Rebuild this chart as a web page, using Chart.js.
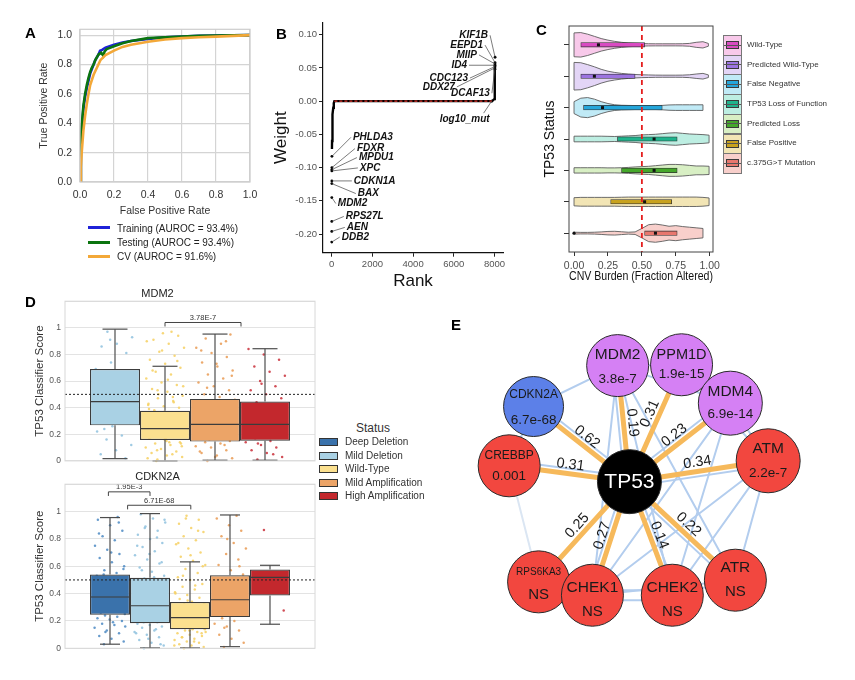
<!DOCTYPE html>
<html>
<head>
<meta charset="utf-8">
<script src="https://cdn.jsdelivr.net/npm/chart.js@4.4.1/dist/chart.umd.min.js"></script>
<style>
html,body{margin:0;padding:0;background:#fff;}
body{width:855px;height:680px;position:relative;overflow:hidden;font-family:"Liberation Sans",Arial,Helvetica,sans-serif;color:#222;}
canvas{position:absolute;}
.pl{position:absolute;font-weight:bold;font-size:15px;line-height:15px;color:#000;}
.legA{position:absolute;left:88px;height:12px;font-size:10px;line-height:12px;color:#222;white-space:nowrap;}
.legA i{display:inline-block;width:22px;height:3px;vertical-align:middle;margin-right:7px;position:relative;top:-1px;}
.ckey{position:absolute;left:723px;width:19px;box-sizing:border-box;border:1px solid #777;}
.ckey b{position:absolute;left:2px;top:5px;width:13px;height:8px;box-sizing:border-box;border:1px solid #3a3a3a;}
.ckey s{position:absolute;left:0;top:8.5px;width:17px;height:1px;background:#555;}
.clab{position:absolute;left:747px;font-size:8px;line-height:10px;color:#333;white-space:nowrap;}
.dpatch{position:absolute;left:319px;width:19px;height:8px;box-sizing:border-box;border:1px solid #333;}
.dlab{position:absolute;left:345px;font-size:10px;line-height:12px;color:#333;white-space:nowrap;}
</style>
</head>
<body>
<canvas id="cA" width="250" height="210" style="left:20px;top:15px;width:250px;height:210px"></canvas>
<canvas id="cB" width="258" height="280" style="left:262px;top:15px;width:258px;height:280px"></canvas>
<canvas id="cC" width="335" height="275" style="left:520px;top:15px;width:335px;height:275px"></canvas>
<canvas id="cD1" width="320" height="185" style="left:0px;top:285px;width:320px;height:185px"></canvas>
<canvas id="cD2" width="320" height="190" style="left:0px;top:468px;width:320px;height:190px"></canvas>
<canvas id="cE" width="415" height="400" style="left:440px;top:280px;width:415px;height:400px"></canvas>

<div class="pl" style="left:25px;top:25px">A</div>
<div class="pl" style="left:276px;top:26px">B</div>
<div class="pl" style="left:536px;top:22px">C</div>
<div class="pl" style="left:25px;top:294px">D</div>
<div class="pl" style="left:451px;top:317px">E</div>

<div id="legA"></div>
<div id="legC"></div>
<div id="legD"></div>

<script>
// ================= DATA =================
// Panel A: ROC curves
const rocLabels = ['Training (AUROC = 93.4%)', 'Testing (AUROC = 93.4%)', 'CV (AUROC = 91.6%)'];
const rocTrainFpr = [0, 0.005, 0.01, 0.02, 0.03, 0.04, 0.05, 0.06, 0.07, 0.08, 0.09, 0.1, 0.11, 0.118, 0.13, 0.15, 0.2, 0.25, 0.3, 0.4, 0.5, 0.6, 0.7, 0.8, 0.9, 1.0];
const rocTrainTpr = [0, 0.22, 0.35, 0.5, 0.58, 0.64, 0.69, 0.74, 0.77, 0.8, 0.83, 0.85, 0.87, 0.894, 0.9, 0.915, 0.935, 0.95, 0.96, 0.975, 0.985, 0.99, 0.995, 0.997, 0.999, 1.0];
const rocTestFpr = [0, 0.005, 0.01, 0.02, 0.03, 0.04, 0.05, 0.06, 0.07, 0.08, 0.09, 0.1, 0.11, 0.125, 0.137, 0.145, 0.157, 0.2, 0.25, 0.3, 0.4, 0.5, 0.6, 0.7, 0.8, 0.9, 1.0];
const rocTestTpr = [0, 0.25, 0.38, 0.52, 0.6, 0.66, 0.71, 0.75, 0.78, 0.8, 0.83, 0.85, 0.87, 0.88, 0.86, 0.89, 0.905, 0.925, 0.945, 0.96, 0.98, 0.985, 0.99, 0.995, 0.997, 0.999, 1.0];
const rocCvFpr = [0, 0.005, 0.01, 0.02, 0.03, 0.04, 0.05, 0.06, 0.08, 0.1, 0.12, 0.15, 0.2, 0.25, 0.3, 0.4, 0.5, 0.6, 0.7, 0.8, 0.9, 1.0];
const rocCvTpr = [0, 0.1, 0.2, 0.35, 0.45, 0.53, 0.6, 0.66, 0.73, 0.78, 0.83, 0.865, 0.895, 0.92, 0.935, 0.955, 0.97, 0.98, 0.986, 0.99, 0.995, 1.0];
const aTicks = [0, 0.2, 0.4, 0.6, 0.8, 1.0];

// Panel B: ranked weights
const bRank = [10, 15, 20, 30, 40, 55, 75, 100, 130, 7880, 7990, 8005, 8012, 8016, 8019, 8022];
const bWeight = [-0.072, -0.06, -0.05, -0.04, -0.03, -0.02, -0.01, -0.003, 0, 0, 0.003, 0.01, 0.02, 0.03, 0.04, 0.047];
const bGenes = ['DDB2', 'AEN', 'RPS27L', 'MDM2', 'BAX', 'CDKN1A', 'XPC', 'MPDU1', 'FDXR', 'PHLDA3', 'log10_mut', 'DCAF13', 'DDX27', 'CDC123', 'ID4', 'MIIP', 'EEPD1', 'KIF1B'];
const bGeneRank = [0, 1, 2, 3, 4, 5, 6, 7, 8, 9, 7862, 8022, 8023, 8024, 8025, 8026, 8027, 8030];
const bGeneWeight = [-0.212, -0.196, -0.181, -0.145, -0.124, -0.12, -0.105, -0.103, -0.1, -0.083, 0.0, 0.048, 0.05, 0.052, 0.054, 0.056, 0.058, 0.066];
const bXTicks = [0, 2000, 4000, 6000, 8000];
const bYTicks = [-0.2, -0.15, -0.1, -0.05, 0, 0.05, 0.1];

// Panel C: CNV burden violins
const cStatus = ['Wild-Type', 'Predicted Wild-Type', 'False Negative', 'TP53 Loss of Function', 'Predicted Loss', 'False Positive', 'c.375G>T Mutation'];
const cQ1 = [0.05, 0.05, 0.07, 0.32, 0.35, 0.27, 0.52];
const cMedian = [0.18, 0.15, 0.21, 0.59, 0.59, 0.52, 0.6];
const cQ3 = [0.52, 0.45, 0.65, 0.76, 0.76, 0.72, 0.76];
const cMax = [0.99, 0.99, 0.95, 0.995, 0.995, 0.995, 0.95];
const cOutlierRow = [7];
const cOutlierValue = [0.0];
const cThreshold = 0.5;
const cGrid = [0, 0.05, 0.1, 0.15, 0.2, 0.25, 0.3, 0.35, 0.4, 0.45, 0.5, 0.55, 0.6, 0.65, 0.7, 0.75, 0.8, 0.85, 0.9, 0.95, 1.0];
const cDensWT = [0.38, 0.39, 0.34, 0.27, 0.2, 0.15, 0.11, 0.08, 0.06, 0.05, 0.04, 0.035, 0.033, 0.033, 0.033, 0.033, 0.035, 0.045, 0.08, 0.1, 0.03];
const cDensPWT = [0.44, 0.43, 0.37, 0.3, 0.22, 0.16, 0.12, 0.09, 0.07, 0.055, 0.045, 0.04, 0.035, 0.033, 0.033, 0.033, 0.035, 0.045, 0.07, 0.09, 0.03];
const cDensFN = [0.19, 0.3, 0.32, 0.27, 0.19, 0.13, 0.09, 0.075, 0.07, 0.065, 0.065, 0.065, 0.065, 0.07, 0.085, 0.09, 0.09, 0.09, 0.09, 0.09, 0.09];
const cDensLoF = [0.09, 0.09, 0.09, 0.09, 0.09, 0.085, 0.08, 0.09, 0.1, 0.11, 0.13, 0.14, 0.15, 0.17, 0.19, 0.2, 0.18, 0.16, 0.15, 0.14, 0.12];
const cDensPL = [0.085, 0.085, 0.085, 0.085, 0.085, 0.08, 0.08, 0.085, 0.095, 0.11, 0.12, 0.13, 0.15, 0.17, 0.19, 0.19, 0.18, 0.16, 0.14, 0.14, 0.13];
const cDensFP = [0.13, 0.14, 0.14, 0.14, 0.14, 0.14, 0.14, 0.145, 0.15, 0.15, 0.15, 0.15, 0.15, 0.15, 0.15, 0.15, 0.15, 0.15, 0.15, 0.14, 0.12];
const cDensMut = [0.03, 0.025, 0.025, 0.03, 0.04, 0.055, 0.06, 0.045, 0.03, 0.04, 0.15, 0.27, 0.29, 0.26, 0.22, 0.24, 0.21, 0.19, 0.17, 0.15, 0.14];
const cXTicks = [0, 0.25, 0.5, 0.75, 1.0];

// Panel D: classifier scores by copy-number status
const dStatus = ['Deep Deletion', 'Mild Deletion', 'Wild-Type', 'Mild Amplification', 'High Amplification'];
const dThreshold = 0.5;
const dYTicks = [0, 0.2, 0.4, 0.6, 0.8, 1.0, 1.2];
const mdm2Status = ['Mild Deletion', 'Wild-Type', 'Mild Amplification', 'High Amplification'];
const mdm2Q1 = [0.267, 0.157, 0.145, 0.152];
const mdm2Median = [0.446, 0.243, 0.274, 0.274];
const mdm2Q3 = [0.69, 0.377, 0.466, 0.446];
const mdm2Low = [0.017, 0.0, 0.005, 0.005];
const mdm2High = [0.99, 0.711, 0.953, 0.843];
const mdm2DotsMildDel = [0.97, 0.93, 0.88, 0.86, 0.81, 0.74, 0.69, 0.63, 0.58, 0.55, 0.51, 0.47, 0.44, 0.41, 0.38, 0.35, 0.31, 0.29, 0.26, 0.22, 0.19, 0.16, 0.12, 0.08, 0.05, 0.02, 0.91, 0.66, 0.33, 0.24];
const mdm2DotsWT = [0.01, 0.03, 0.04, 0.06, 0.07, 0.09, 0.1, 0.12, 0.13, 0.14, 0.16, 0.17, 0.18, 0.19, 0.2, 0.21, 0.22, 0.23, 0.24, 0.25, 0.26, 0.27, 0.28, 0.29, 0.3, 0.32, 0.33, 0.35, 0.36, 0.38, 0.4, 0.41, 0.43, 0.45, 0.47, 0.49, 0.52, 0.54, 0.57, 0.59, 0.62, 0.65, 0.67, 0.7, 0.73, 0.76, 0.79, 0.82, 0.85, 0.88, 0.91, 0.94, 0.96, 0.02, 0.05, 0.08, 0.11, 0.15, 0.18, 0.21, 0.24, 0.26, 0.28, 0.31, 0.34, 0.37, 0.39, 0.44, 0.5, 0.56, 0.61, 0.68, 0.75, 0.83, 0.9, 0.97, 0.0, 0.13, 0.17, 0.2, 0.23, 0.27, 0.3, 0.14, 0.19, 0.22, 0.25, 0.42, 0.48, 0.53];
const mdm2DotsMildAmp = [0.0, 0.02, 0.04, 0.06, 0.08, 0.1, 0.11, 0.13, 0.14, 0.15, 0.17, 0.18, 0.2, 0.21, 0.23, 0.24, 0.26, 0.27, 0.28, 0.3, 0.32, 0.34, 0.36, 0.38, 0.4, 0.42, 0.44, 0.46, 0.48, 0.5, 0.53, 0.56, 0.59, 0.62, 0.65, 0.68, 0.71, 0.74, 0.78, 0.81, 0.85, 0.88, 0.92, 0.95, 0.03, 0.07, 0.12, 0.16, 0.19, 0.22, 0.25, 0.29, 0.33, 0.37, 0.45, 0.55, 0.64, 0.73, 0.83, 0.9];
const mdm2DotsHighAmp = [0.01, 0.03, 0.06, 0.08, 0.1, 0.12, 0.14, 0.15, 0.17, 0.19, 0.2, 0.22, 0.24, 0.26, 0.27, 0.29, 0.31, 0.33, 0.35, 0.38, 0.41, 0.44, 0.47, 0.5, 0.53, 0.56, 0.6, 0.64, 0.67, 0.71, 0.76, 0.8, 0.84, 0.05, 0.13, 0.18, 0.23, 0.28, 0.36, 0.58];
const mdm2Brackets = [{ from: 1.0, to: 2.52, y: 1.04, text: '3.78E-7' }];

const cdkn2aStatus = ['Deep Deletion', 'Mild Deletion', 'Wild-Type', 'Mild Amplification', 'High Amplification'];
const cdkn2aQ1 = [0.245, 0.184, 0.14, 0.228, 0.387];
const cdkn2aMedian = [0.375, 0.311, 0.225, 0.355, 0.519];
const cdkn2aQ3 = [0.539, 0.515, 0.338, 0.534, 0.576];
const cdkn2aLow = [0.03, 0.003, 0.003, 0.012, 0.176];
const cdkn2aHigh = [0.956, 0.985, 0.632, 0.975, 0.607];
const cdkn2aDotsDeepDel = [0.03, 0.05, 0.07, 0.09, 0.11, 0.13, 0.15, 0.17, 0.18, 0.2, 0.21, 0.22, 0.23, 0.24, 0.25, 0.27, 0.28, 0.3, 0.31, 0.33, 0.34, 0.36, 0.37, 0.38, 0.4, 0.41, 0.43, 0.45, 0.47, 0.49, 0.5, 0.52, 0.53, 0.55, 0.57, 0.6, 0.63, 0.66, 0.69, 0.72, 0.75, 0.79, 0.82, 0.86, 0.9, 0.94, 0.96, 0.12, 0.16, 0.19, 0.26, 0.29, 0.35, 0.39, 0.44, 0.54, 0.58, 0.7, 0.84, 0.92];
const cdkn2aDotsMildDel = [0.0, 0.02, 0.04, 0.06, 0.08, 0.1, 0.12, 0.13, 0.15, 0.16, 0.17, 0.18, 0.19, 0.2, 0.21, 0.22, 0.24, 0.25, 0.26, 0.27, 0.29, 0.3, 0.31, 0.32, 0.33, 0.35, 0.36, 0.38, 0.4, 0.42, 0.44, 0.46, 0.48, 0.5, 0.51, 0.53, 0.56, 0.59, 0.62, 0.65, 0.68, 0.71, 0.74, 0.77, 0.8, 0.83, 0.86, 0.89, 0.92, 0.95, 0.98, 0.03, 0.07, 0.11, 0.14, 0.19, 0.23, 0.28, 0.34, 0.37, 0.41, 0.45, 0.52, 0.57, 0.63, 0.69, 0.75, 0.81, 0.88, 0.94];
const cdkn2aDotsWT = [0.0, 0.01, 0.02, 0.03, 0.04, 0.05, 0.06, 0.07, 0.08, 0.09, 0.1, 0.11, 0.12, 0.13, 0.14, 0.14, 0.15, 0.16, 0.17, 0.18, 0.19, 0.2, 0.21, 0.22, 0.22, 0.23, 0.24, 0.25, 0.26, 0.27, 0.28, 0.29, 0.3, 0.31, 0.32, 0.33, 0.34, 0.36, 0.37, 0.39, 0.41, 0.43, 0.45, 0.47, 0.5, 0.52, 0.55, 0.58, 0.61, 0.64, 0.67, 0.7, 0.73, 0.76, 0.79, 0.82, 0.85, 0.88, 0.91, 0.94, 0.97, 0.02, 0.05, 0.08, 0.11, 0.13, 0.16, 0.18, 0.2, 0.23, 0.25, 0.27, 0.3, 0.35, 0.4, 0.46, 0.53, 0.6, 0.68, 0.77, 0.86, 0.95, 0.12, 0.15, 0.17, 0.19, 0.21, 0.24, 0.28, 0.32];
const cdkn2aDotsMildAmp = [0.01, 0.04, 0.07, 0.1, 0.13, 0.16, 0.18, 0.2, 0.22, 0.24, 0.26, 0.28, 0.3, 0.32, 0.34, 0.36, 0.38, 0.4, 0.42, 0.45, 0.48, 0.51, 0.54, 0.57, 0.61, 0.65, 0.69, 0.73, 0.77, 0.82, 0.86, 0.9, 0.95, 0.97, 0.15, 0.25, 0.35, 0.44, 0.6, 0.8];
const cdkn2aDotsHighAmp = [0.865, 0.277, 0.41, 0.5, 0.55];
const cdkn2aBrackets = [{ from: -0.04, to: 1.0, y: 1.144, text: '1.95E-3' }, { from: 0.44, to: 2.02, y: 1.046, text: '6.71E-68' }];

// Panel E: network
const eNodes = ['TP53', 'MDM2', 'PPM1D', 'MDM4', 'CDKN2A', 'CREBBP', 'ATM', 'RPS6KA3', 'CHEK1', 'CHEK2', 'ATR'];
const eNodePValue = ['', '3.8e-7', '1.9e-15', '6.9e-14', '6.7e-68', '0.001', '2.2e-7', 'NS', 'NS', 'NS', 'NS'];
const eNodeGroup = ['hub', 'amp', 'amp', 'amp', 'del', 'other', 'other', 'other', 'other', 'other', 'other'];
const eLayoutX = [186, 172, 248, 306, 72, 43, 351, 78, 142, 237, 312];
const eLayoutY = [202, 63, 62, 108, 112, 183, 177, 322, 338, 338, 320];
const eTargets = ['CDKN2A', 'MDM2', 'PPM1D', 'MDM4', 'CREBBP', 'ATM', 'RPS6KA3', 'CHEK1', 'CHEK2', 'ATR'];
const eWeights = [0.62, 0.19, 0.31, 0.23, 0.31, 0.34, 0.25, 0.27, 0.14, 0.22];
const eLinks = [['CDKN2A', 'MDM2'], ['CDKN2A', 'CREBBP'], ['MDM2', 'PPM1D'], ['MDM2', 'MDM4'], ['PPM1D', 'MDM4'], ['PPM1D', 'ATM'],
  ['MDM2', 'CHEK1'], ['MDM2', 'CHEK2'], ['MDM2', 'ATR'], ['MDM4', 'CHEK2'], ['MDM4', 'ATM'], ['MDM4', 'CHEK1'],
  ['ATM', 'CHEK1'], ['ATM', 'CHEK2'], ['ATM', 'ATR'], ['CHEK1', 'CHEK2'], ['CHEK1', 'CHEK2'], ['CHEK2', 'ATR'], ['CHEK1', 'ATR'],
  ['CREBBP', 'RPS6KA3'], ['TP53', 'CHEK1'], ['TP53', 'CHEK2'], ['TP53', 'CREBBP'], ['TP53', 'MDM2'], ['TP53', 'ATM'], ['TP53', 'MDM4'], ['TP53', 'ATR'], ['TP53', 'CDKN2A']];

// ================= STYLES =================
Chart.defaults.font.family = '"Liberation Sans", Arial, Helvetica, sans-serif';
Chart.defaults.animation = false;
Chart.defaults.responsive = false;
Chart.defaults.plugins.legend.display = false;
Chart.defaults.plugins.tooltip.enabled = false;

const rocColors = ['#1f22d8', '#0b740f', '#f3a838'];
const cFill = ['#f8c9ea', '#e3d5f6', '#c0eaf6', '#bdeee2', '#d8efc4', '#f2e5b5', '#f8cfcb'];
const cBox = ['#d94bc2', '#9c74e0', '#25a6da', '#1fb38c', '#45a82a', '#c8a21e', '#e8776e'];
const dBoxColors = ['#3a72ab', '#a9d1e4', '#fbe08f', '#eca467', '#c3282d'];
const dDotColors = ['#4c8ac3', '#8ec1de', '#f6d062', '#e99a52', '#c92f3a'];
const eGroupColor = { hub: '#000000', amp: '#d580f4', del: '#5c80e8', other: '#f2473f' };
const eNodeRadius = [32, 31, 31, 32, 30, 31, 32, 31, 31, 31, 31];
const eNameSize = [21, 15.5, 14.5, 15.5, 12, 12, 15.5, 10, 15.5, 15.5, 15.5];
const eNameDy = [0, -11, -10, -11, -12, -10, -12, -10, -8, -8, -12];
const eValDy = [0, 14, 10, 11, 14, 10, 12, 13, 17, 17, 12];
const eLabelSide = [1, 1, -1, -1, 1, -1, 1, 1, -1, -1];
const eLabelT = [0.5, 0.5, 0.55, 0.5, 0.5, 0.5, 0.5, 0.5, 0.5, 0.5];
const eLinkShift = [0, 0, 0, 0, 0, 0, 0, 0, 0, 0, 0, 0, 0, 0, 0, -5, 5, 0, 0, 0, 5, -5, 5, -5, 5, -5, 5, 5];
const bLabelStyle = [
  { dx: 10, dy: -5, align: 'left' }, { dx: 15, dy: -4, align: 'left' }, { dx: 14, dy: -5, align: 'left' },
  { dx: 6, dy: 6, align: 'left' }, { dx: 26, dy: 10, align: 'left' }, { dx: 22, dy: 0, align: 'left' },
  { dx: 28, dy: -3, align: 'left' }, { dx: 27, dy: -12, align: 'left' }, { dx: 25, dy: -19, align: 'left' },
  { dx: 21, dy: -19, align: 'left' }, { dx: -27, dy: 18, align: 'center', cx: -8, cy: 12 },
  { dx: -5, dy: 24, align: 'right' }, { dx: -40, dy: 19, align: 'right' }, { dx: -27, dy: 11.5, align: 'right' },
  { dx: -28, dy: 0, align: 'right' }, { dx: -18, dy: -9, align: 'right' }, { dx: -12, dy: -17.5, align: 'right' },
  { dx: -7, dy: -22, align: 'right' }];

const fixWidth = w => s => { s.width = w; };
const fixHeight = h => s => { s.height = h; };
const setTicks = arr => s => { s.ticks = arr.map(v => ({ value: v })); };
const framePlugin = (color, width) => ({
  id: 'frame',
  afterDraw(chart) {
    const { ctx, chartArea: a } = chart;
    ctx.save(); ctx.strokeStyle = color; ctx.lineWidth = width;
    ctx.strokeRect(a.left, a.top, a.right - a.left, a.bottom - a.top);
    ctx.restore();
  }
});
function seg(ctx, x1, y1, x2, y2) { ctx.beginPath(); ctx.moveTo(x1, y1); ctx.lineTo(x2, y2); ctx.stroke(); }

// ================= PANEL A =================
new Chart(document.getElementById('cA'), {
  type: 'line',
  data: { datasets: [
    { label: rocLabels[2], data: rocCvFpr.map((x, i) => ({ x, y: rocCvTpr[i] })), borderColor: rocColors[2], order: 0 },
    { label: rocLabels[1], data: rocTestFpr.map((x, i) => ({ x, y: rocTestTpr[i] })), borderColor: rocColors[1], order: 1 },
    { label: rocLabels[0], data: rocTrainFpr.map((x, i) => ({ x, y: rocTrainTpr[i] })), borderColor: rocColors[0], order: 2 }
  ] },
  options: {
    elements: { point: { radius: 0 }, line: { borderWidth: 2.6, tension: 0, fill: false } },
    layout: { padding: { top: 13, right: 20, bottom: 0, left: 0 } },
    scales: {
      x: { type: 'linear', min: 0, max: 1, afterBuildTicks: setTicks(aTicks), afterFit: fixHeight(43),
        ticks: { callback: v => v.toFixed(1), font: { size: 10.5 }, color: '#333', padding: 7, maxRotation: 0 },
        grid: { color: '#d4d4d4', lineWidth: 1.2, drawTicks: false }, border: { display: false },
        title: { display: true, text: 'False Positive Rate', font: { size: 10.5 }, color: '#333', padding: { top: 0, bottom: 8 } } },
      y: { type: 'linear', min: 0, max: 1.04, afterBuildTicks: setTicks(aTicks), afterFit: fixWidth(60),
        ticks: { callback: v => v.toFixed(1), font: { size: 10.5 }, color: '#333', padding: 8 },
        grid: { color: '#d4d4d4', lineWidth: 1.2, drawTicks: false }, border: { display: false },
        title: { display: true, text: 'True Positive Rate', font: { size: 10.5 }, color: '#333', padding: { top: 18, bottom: 0 } } }
    }
  },
  plugins: [framePlugin('#cccccc', 1.2)]
});
(function () {
  const legA = document.getElementById('legA');
  const ys = [228.5, 243, 257];
  rocLabels.forEach((t, i) => {
    const d = document.createElement('div');
    d.className = 'legA'; d.style.top = (ys[i] - 6) + 'px';
    d.innerHTML = '<i style="background:' + rocColors[i] + '"></i>';
    d.appendChild(document.createTextNode(t));
    legA.appendChild(d);
  });
})();

// ================= PANEL B =================
const zeroRanks = bRank.filter((r, i) => bWeight[i] === 0);
new Chart(document.getElementById('cB'), {
  type: 'scatter',
  data: { datasets: [
    { data: [{ x: zeroRanks[0], y: 0 }, { x: zeroRanks[zeroRanks.length - 1], y: 0 }], showLine: true, borderColor: '#e3342b', borderWidth: 1.2, borderDash: [3, 2], pointRadius: 0, order: -1 },
    { data: bGeneRank.map((x, i) => ({ x, y: bGeneWeight[i] })), pointRadius: 1.4, backgroundColor: '#000', borderWidth: 0, order: 0 },
    { data: bRank.map((x, i) => ({ x, y: bWeight[i] })), showLine: true, borderColor: '#000', borderWidth: 2.4, pointRadius: 0, order: 1 }
  ] },
  options: {
    layout: { padding: { top: 7, right: 17, bottom: 0, left: 0 } },
    scales: {
      x: { type: 'linear', min: -430, max: 8420, afterBuildTicks: setTicks(bXTicks), afterFit: fixHeight(42.3),
        ticks: { callback: v => String(v), font: { size: 9.5 }, color: '#555', padding: 2, maxRotation: 0 },
        grid: { drawOnChartArea: false, drawTicks: true, tickLength: 4, color: '#222' },
        border: { display: true, color: '#111', width: 1.2 },
        title: { display: true, text: 'Rank', font: { size: 17 }, color: '#111', padding: { top: 0, bottom: 3 } } },
      y: { type: 'linear', min: -0.228, max: 0.118, afterBuildTicks: setTicks(bYTicks), afterFit: fixWidth(61),
        ticks: { callback: v => (Math.round(v * 100) / 100).toFixed(2), font: { size: 9.5 }, color: '#555', padding: 2 },
        grid: { drawOnChartArea: false, drawTicks: true, tickLength: 4, color: '#222' },
        border: { display: true, color: '#111', width: 1.2 },
        title: { display: true, text: 'Weight', font: { size: 17 }, color: '#111', padding: { top: 9, bottom: 0 } } }
    }
  },
  plugins: [{
    id: 'geneLabels',
    afterDatasetsDraw(chart) {
      const { ctx, scales: { x: xs, y: ys } } = chart;
      ctx.save();
      ctx.font = 'italic bold 10px "Liberation Sans", Arial, sans-serif';
      ctx.textBaseline = 'middle';
      bGenes.forEach((g, i) => {
        const st = bLabelStyle[i];
        const px = xs.getPixelForValue(bGeneRank[i]), py = ys.getPixelForValue(bGeneWeight[i]);
        const lx = px + st.dx, ly = py + st.dy;
        let cx = lx, cy = ly;
        if (st.align === 'left') cx = lx - 2;
        else if (st.align === 'right') cx = lx + 2;
        else { cx = px + st.cx; cy = py + st.cy; }
        ctx.strokeStyle = '#444'; ctx.lineWidth = 0.7;
        seg(ctx, cx, cy, px, py);
        ctx.fillStyle = '#111';
        ctx.textAlign = st.align;
        ctx.fillText(g, lx, ly);
      });
      ctx.restore();
    }
  }]
});

// ================= PANEL C =================
const cDensity = [cDensWT, cDensPWT, cDensFN, cDensLoF, cDensPL, cDensFP, cDensMut];
new Chart(document.getElementById('cC'), {
  type: 'bar',
  data: { datasets: [{
    data: cStatus.map((s, i) => ({ y: i + 1, x: [cQ1[i], cQ3[i]] })),
    backgroundColor: cBox, borderColor: '#333', borderWidth: 0.8, borderSkipped: false, barThickness: 4.5
  }] },
  options: {
    indexAxis: 'y',
    layout: { padding: { top: 11, right: 142, bottom: 0, left: 0 } },
    scales: {
      x: { type: 'linear', min: -0.037, max: 1.024, afterBuildTicks: setTicks(cXTicks), afterFit: fixHeight(38),
        ticks: { callback: v => v.toFixed(2), font: { size: 10.5 }, color: '#4d4d4d', padding: 4, maxRotation: 0 },
        grid: { drawOnChartArea: false, drawTicks: true, tickLength: 4, color: '#333' }, border: { display: false },
        title: { display: true, text: 'CNV Burden (Fraction Altered)', font: { size: 13 }, color: '#111', padding: { top: 0, bottom: 5.5 } } },
      y: { type: 'linear', offset: false, min: 0.4, max: 7.6, reverse: true, afterBuildTicks: setTicks([1, 2, 3, 4, 5, 6, 7]), afterFit: fixWidth(49),
        ticks: { callback: () => '', padding: 0 },
        grid: { offset: false, drawOnChartArea: false, drawTicks: true, tickLength: 5, color: '#333' }, border: { display: false },
        title: { display: true, text: 'TP53 Status', font: { size: 14 }, color: '#111', padding: { top: 21.6, bottom: 0 } } }
    }
  },
  plugins: [{
    id: 'violins',
    beforeDatasetsDraw(chart) {
      const { ctx, scales: { x: xs, y: ys } } = chart;
      const unit = Math.abs(ys.getPixelForValue(2) - ys.getPixelForValue(1));
      ctx.save();
      cStatus.forEach((s, i) => {
        const yc = ys.getPixelForValue(i + 1);
        const d = cDensity[i], end = cMax[i];
        const pts = [];
        for (let k = 0; k < cGrid.length; k++) {
          if (cGrid[k] < end) pts.push([cGrid[k], d[k]]);
          else {
            const k0 = k - 1;
            const h = d[k0] + (d[k] - d[k0]) * (end - cGrid[k0]) / (cGrid[k] - cGrid[k0]);
            pts.push([end, h]); break;
          }
        }
        ctx.beginPath();
        pts.forEach(([x, h], j) => { const px = xs.getPixelForValue(x), py = yc - h * unit; j ? ctx.lineTo(px, py) : ctx.moveTo(px, py); });
        for (let j = pts.length - 1; j >= 0; j--) ctx.lineTo(xs.getPixelForValue(pts[j][0]), yc + pts[j][1] * unit);
        ctx.closePath();
        ctx.fillStyle = cFill[i]; ctx.fill();
        ctx.strokeStyle = '#5c5c5c'; ctx.lineWidth = 0.9; ctx.stroke();
      });
      ctx.restore();
    },
    afterDatasetsDraw(chart) {
      const { ctx, chartArea: a, scales: { x: xs, y: ys } } = chart;
      ctx.save();
      ctx.fillStyle = '#111';
      cStatus.forEach((s, i) => {
        const yc = ys.getPixelForValue(i + 1), xm = xs.getPixelForValue(cMedian[i]);
        ctx.fillRect(xm - 1.5, yc - 1.5, 3, 3);
      });
      cOutlierRow.forEach((r, k) => {
        ctx.beginPath(); ctx.arc(xs.getPixelForValue(cOutlierValue[k]), ys.getPixelForValue(r), 1.6, 0, Math.PI * 2); ctx.fill();
      });
      ctx.strokeStyle = '#e41e1e'; ctx.lineWidth = 1.8; ctx.setLineDash([5, 4]);
      const xt = xs.getPixelForValue(cThreshold);
      seg(ctx, xt, a.top, xt, a.bottom);
      ctx.setLineDash([]);
      ctx.strokeStyle = '#444'; ctx.lineWidth = 1;
      ctx.strokeRect(a.left, a.top, a.right - a.left, a.bottom - a.top);
      ctx.restore();
    }
  }]
});
(function () {
  const legC = document.getElementById('legC');
  const h = 19.7;
  cStatus.forEach((s, i) => {
    const k = document.createElement('div');
    k.className = 'ckey';
    k.style.top = (35 + i * h) + 'px'; k.style.height = (h + 1) + 'px'; k.style.background = cFill[i];
    k.innerHTML = '<b style="background:' + cBox[i] + '"></b><s></s>';
    legC.appendChild(k);
    const l = document.createElement('div');
    l.className = 'clab'; l.style.top = (35 + i * h + h / 2 - 5) + 'px';
    l.textContent = s;
    legC.appendChild(l);
  });
})();

// ================= PANEL D =================
function drawD(id, title, status, q1, med, q3, low, high, dots, brackets, padBottom) {
  const idx = status.map(s => dStatus.indexOf(s));
  new Chart(document.getElementById(id), {
    type: 'bar',
    data: { labels: [title], datasets: status.map((s, i) => ({
      label: s, data: [[q1[i], q3[i]]], backgroundColor: dBoxColors[idx[i]], borderColor: '#3c3c3c', borderWidth: 1.2,
      borderSkipped: false, categoryPercentage: 0.8, barPercentage: 1.0 })) },
    options: {
      layout: { padding: { top: 0, right: 5, bottom: padBottom, left: 0 } },
      plugins: { title: { display: true, text: title, font: { size: 11, weight: 'normal' }, color: '#222', padding: { top: 2, bottom: 1 } } },
      scales: {
        x: { display: false },
        y: { min: 0, max: 1.2, afterBuildTicks: setTicks(dYTicks), afterFit: fixWidth(65),
          ticks: { callback: v => (v > 1.05 ? '' : String(Math.round(v * 10) / 10)), font: { size: 8.5 }, color: '#555', padding: 4 },
          grid: { color: '#e3e3e3', lineWidth: 1, drawTicks: false }, border: { display: false },
          title: { display: true, text: 'TP53 Classifier Score', font: { size: 11.5 }, color: '#333', padding: { top: 33, bottom: 0 } } }
      }
    },
    plugins: [{
      id: 'boxParts',
      beforeDatasetsDraw(chart) {
        const { ctx, scales: { y: ys } } = chart;
        ctx.save();
        status.forEach((s, i) => {
          const bar = chart.getDatasetMeta(i).data[0];
          ctx.fillStyle = dDotColors[idx[i]]; ctx.globalAlpha = 0.85;
          dots[i].forEach((v, j) => {
            const jit = ((j * 0.6180339887 + 0.31) % 1) - 0.5;
            ctx.beginPath(); ctx.arc(bar.x + jit * bar.width * 0.8, ys.getPixelForValue(v), 1.25, 0, Math.PI * 2); ctx.fill();
          });
        });
        ctx.restore();
      },
      afterDatasetsDraw(chart) {
        const { ctx, chartArea: a, scales: { y: ys } } = chart;
        ctx.save();
        status.forEach((s, i) => {
          const bar = chart.getDatasetMeta(i).data[0];
          const cx = bar.x, w = bar.width;
          const yH = ys.getPixelForValue(high[i]), yL = ys.getPixelForValue(low[i]);
          ctx.strokeStyle = '#4d4d4d'; ctx.lineWidth = 1.2;
          seg(ctx, cx, ys.getPixelForValue(q3[i]), cx, yH);
          seg(ctx, cx, ys.getPixelForValue(q1[i]), cx, yL);
          seg(ctx, cx - w / 4, yH, cx + w / 4, yH);
          seg(ctx, cx - w / 4, yL, cx + w / 4, yL);
          ctx.strokeStyle = '#3c3c3c';
          const yM = ys.getPixelForValue(med[i]);
          seg(ctx, cx - w / 2, yM, cx + w / 2, yM);
        });
        ctx.strokeStyle = '#222'; ctx.lineWidth = 1; ctx.setLineDash([2, 2]);
        const yt = ys.getPixelForValue(dThreshold);
        seg(ctx, a.left, yt, a.right, yt);
        ctx.setLineDash([]);
        const b0 = chart.getDatasetMeta(0).data[0];
        ctx.font = '7.5px "Liberation Sans", Arial, sans-serif';
        ctx.textAlign = 'center'; ctx.textBaseline = 'bottom'; ctx.fillStyle = '#333';
        brackets.forEach(b => {
          const xa = b0.x + b.from * b0.width, xb = b0.x + b.to * b0.width;
          const y = ys.getPixelForValue(b.y), yd = ys.getPixelForValue(b.y - 0.03);
          ctx.strokeStyle = '#444'; ctx.lineWidth = 1;
          ctx.beginPath(); ctx.moveTo(xa, yd); ctx.lineTo(xa, y); ctx.lineTo(xb, y); ctx.lineTo(xb, yd); ctx.stroke();
          ctx.fillText(b.text, (xa + xb) / 2, y - 1);
        });
        ctx.strokeStyle = '#d8d8d8'; ctx.lineWidth = 1;
        ctx.strokeRect(a.left, a.top, a.right - a.left, a.bottom - a.top);
        ctx.restore();
      }
    }]
  });
}
drawD('cD1', 'MDM2', mdm2Status, mdm2Q1, mdm2Median, mdm2Q3, mdm2Low, mdm2High,
  [mdm2DotsMildDel, mdm2DotsWT, mdm2DotsMildAmp, mdm2DotsHighAmp], mdm2Brackets, 6);
drawD('cD2', 'CDKN2A', cdkn2aStatus, cdkn2aQ1, cdkn2aMedian, cdkn2aQ3, cdkn2aLow, cdkn2aHigh,
  [cdkn2aDotsDeepDel, cdkn2aDotsMildDel, cdkn2aDotsWT, cdkn2aDotsMildAmp, cdkn2aDotsHighAmp], cdkn2aBrackets, 9.7);
(function () {
  const legD = document.getElementById('legD');
  const t = document.createElement('div');
  t.style.cssText = 'position:absolute;left:333px;top:421px;width:80px;text-align:center;font-size:12px;line-height:14px;color:#333;';
  t.textContent = 'Status';
  legD.appendChild(t);
  dStatus.forEach((s, i) => {
    const yc = 442.3 + i * 13.4;
    const p = document.createElement('div');
    p.className = 'dpatch'; p.style.top = (yc - 4) + 'px'; p.style.background = dBoxColors[i];
    legD.appendChild(p);
    const l = document.createElement('div');
    l.className = 'dlab'; l.style.top = (yc - 6) + 'px'; l.textContent = s;
    legD.appendChild(l);
  });
})();

// ================= PANEL E =================
const eIdx = n => eNodes.indexOf(n);
function ePx(chart, n) {
  const i = eIdx(n);
  return [chart.scales.x.getPixelForValue(eLayoutX[i]), chart.scales.y.getPixelForValue(eLayoutY[i])];
}
new Chart(document.getElementById('cE'), {
  type: 'scatter',
  data: { datasets: [{
    data: eNodes.map((n, i) => ({ x: eLayoutX[i], y: eLayoutY[i] })),
    pointRadius: eNodeRadius, pointHoverRadius: eNodeRadius,
    pointBackgroundColor: eNodeGroup.map(g => eGroupColor[g]),
    pointBorderColor: '#2a2a2a', pointBorderWidth: 1
  }] },
  options: {
    layout: { padding: 0 },
    scales: { x: { display: false, min: 0, max: 415 }, y: { display: false, min: 0, max: 400, reverse: true } }
  },
  plugins: [{
    id: 'network',
    beforeDatasetsDraw(chart) {
      const ctx = chart.ctx;
      ctx.save();
      ctx.lineCap = 'round';
      eLinks.forEach(([a, b], k) => {
        const [x1, y1] = ePx(chart, a), [x2, y2] = ePx(chart, b);
        const L = Math.hypot(x2 - x1, y2 - y1), s = eLinkShift[k];
        const nx = -(y2 - y1) / L * s, ny = (x2 - x1) / L * s;
        ctx.strokeStyle = (a === 'CREBBP' && b === 'RPS6KA3') ? '#dbe6f3' : '#b3cdee';
        ctx.lineWidth = 2;
        seg(ctx, x1 + nx, y1 + ny, x2 + nx, y2 + ny);
      });
      ctx.strokeStyle = '#f6b95b'; ctx.lineWidth = 5;
      eTargets.forEach(t => {
        const [x1, y1] = ePx(chart, 'TP53'), [x2, y2] = ePx(chart, t);
        seg(ctx, x1, y1, x2, y2);
      });
      ctx.restore();
    },
    afterDatasetsDraw(chart) {
      const ctx = chart.ctx;
      ctx.save();
      ctx.textAlign = 'center'; ctx.textBaseline = 'middle';
      ctx.font = '14.5px "Liberation Sans", Arial, sans-serif'; ctx.fillStyle = '#1a1a1a';
      eTargets.forEach((t, k) => {
        const [x1, y1] = ePx(chart, 'TP53'), [x2, y2] = ePx(chart, t);
        const L = Math.hypot(x2 - x1, y2 - y1);
        const dx = (x2 - x1) / L, dy = (y2 - y1) / L;
        const nx = -dy, ny = dx, tt = eLabelT[k];
        const px = x1 + (x2 - x1) * tt + nx * 9 * eLabelSide[k], py = y1 + (y2 - y1) * tt + ny * 9 * eLabelSide[k];
        let ang = Math.atan2(dy, dx);
        if (ang > Math.PI / 2) ang -= Math.PI;
        if (ang <= -Math.PI / 2) ang += Math.PI;
        ctx.save(); ctx.translate(px, py); ctx.rotate(ang);
        ctx.fillText(eWeights[k].toFixed(2), 0, 0);
        ctx.restore();
      });
      eNodes.forEach((n, i) => {
        const [x, y] = ePx(chart, n);
        if (eNodePValue[i] === '') {
          ctx.fillStyle = '#ffffff';
          ctx.font = eNameSize[i] + 'px "Liberation Sans", Arial, sans-serif';
          ctx.fillText(n, x, y + 1);
        } else {
          ctx.fillStyle = '#1a1a1a';
          ctx.font = eNameSize[i] + 'px "Liberation Sans", Arial, sans-serif';
          ctx.fillText(n, x, y + eNameDy[i]);
          ctx.font = (eNodePValue[i] === 'NS' ? 15 : 13.5) + 'px "Liberation Sans", Arial, sans-serif';
          ctx.fillText(eNodePValue[i], x, y + eValDy[i]);
        }
      });
      ctx.restore();
    }
  }]
});
</script>
</body>
</html>
